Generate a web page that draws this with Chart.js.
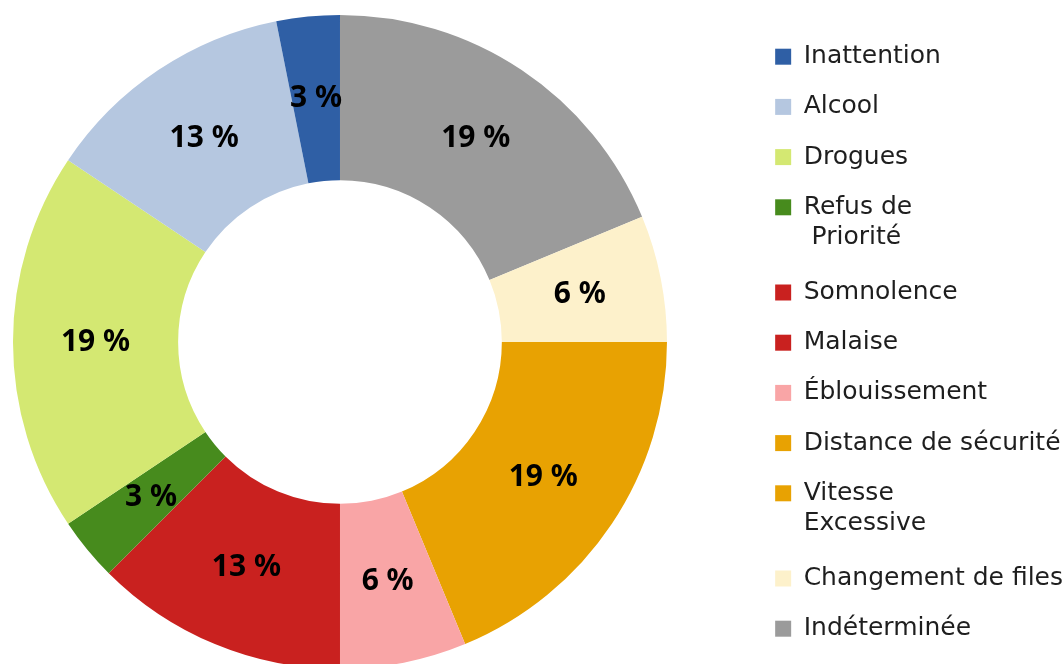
<!DOCTYPE html>
<html>
<head>
<meta charset="utf-8">
<script src="https://cdn.jsdelivr.net/npm/chart.js@4.4.1/dist/chart.umd.min.js"></script>
<style>
  html, body { margin: 0; padding: 0; background: #fff; overflow: hidden; }
  body { width: 1063px; height: 664px; position: relative; }
  #wrap { position: absolute; left: -70px; top: 0; width: 1143px; height: 684px; }
</style>
</head>
<body>
<div id="wrap"><canvas id="chart"></canvas></div>
<script>
// legend order (top to bottom); the ring runs counter-clockwise from 12 o'clock
const categories = [
  "Inattention", "Alcool", "Drogues", ["Refus de", " Priorité"], "Somnolence",
  "Malaise", "Éblouissement", "Distance de sécurité", ["Vitesse", "Excessive"],
  "Changement de files", "Indéterminée"
];
// slice sizes (multiples of 1/32 of the ring)
const counts = [1, 4, 6, 1, 0, 4, 2, 0, 6, 2, 6];
// rounded percentages printed on the slices
const percentLabels = [3, 13, 19, 3, 0, 13, 6, 0, 19, 6, 19];
const colors = [
  "#2f5fa5", "#b5c7e0", "#d4e872", "#478b1d", "#c9211f",
  "#c9211f", "#f9a5a6", "#e8a202", "#e8a202", "#fdf1cb", "#9b9b9b"
];

// Chart.js draws clockwise, so feed it reversed and flip the legend back
const rev = arr => arr.slice().reverse();
const shownLabels = rev(percentLabels);

const sliceLabels = {
  id: "sliceLabels",
  afterDatasetsDraw(chart) {
    const ctx = chart.ctx;
    ctx.save();
    ctx.font = "bold 30px 'Noto Sans'";
    ctx.fillStyle = "#000";
    ctx.textAlign = "center";
    ctx.textBaseline = "middle";
    chart.getDatasetMeta(0).data.forEach((arc, i) => {
      if (!shownLabels[i]) return;
      const p = arc.tooltipPosition();
      ctx.fillText(shownLabels[i] + " %", p.x, p.y);
    });
    ctx.restore();
  }
};

new Chart(document.getElementById("chart"), {
  type: "doughnut",
  data: {
    labels: rev(categories),
    datasets: [{
      data: rev(counts),
      backgroundColor: rev(colors),
      borderWidth: 0,
    }],
  },
  options: {
    responsive: true,
    maintainAspectRatio: false,
    animation: false,
    cutout: "49.5%",
    layout: { padding: { top: 15, bottom: 15, left: 0, right: 0 } },
    plugins: {
      tooltip: { enabled: false },
      legend: {
        position: "right",
        align: "start",
        reverse: true,
        // empty title only nudges the list down a few pixels
        title: { display: true, text: "", font: { size: 4, lineHeight: 1 }, padding: 0 },
        labels: {
          boxWidth: 16,
          boxHeight: 16,
          padding: 25.2,
          color: "#1e1e1e",
          font: { family: "'DejaVu Sans'", size: 25, lineHeight: 1.2 },
        },
      },
    },
  },
  plugins: [sliceLabels],
});
</script>
</body>
</html>
